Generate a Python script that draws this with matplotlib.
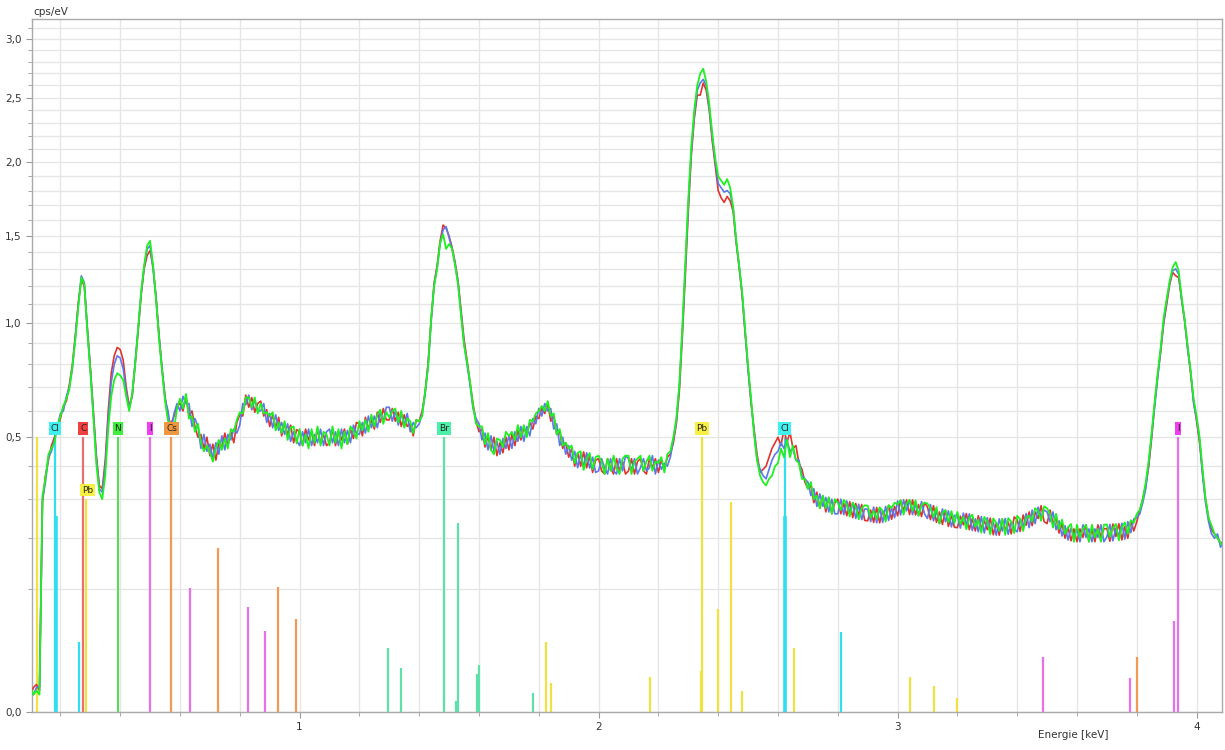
import numpy as np
import matplotlib.pyplot as plt
from matplotlib.ticker import FixedLocator, MultipleLocator, FuncFormatter

# energy channels (keV), 10 eV wide
energy = np.round(np.arange(0.10, 4.095, 0.01), 2)

# three measurements, cps/eV, one row per 0.1 keV
spec_red = [
    0.002, 0.004, 0.005, 0.003, 0.29, 0.37, 0.42, 0.47, 0.50, 0.53,
    0.57, 0.62, 0.64, 0.71, 0.80, 0.94, 1.11, 1.24, 1.20, 0.98,
    0.79, 0.60, 0.44, 0.34, 0.33, 0.42, 0.60, 0.76, 0.84, 0.88,
    0.87, 0.82, 0.70, 0.62, 0.66, 0.80, 0.96, 1.15, 1.30, 1.38,
    1.41, 1.31, 1.14, 0.94, 0.78, 0.66, 0.57, 0.55, 0.58, 0.62,
    0.63, 0.60, 0.66, 0.58, 0.60, 0.54, 0.50, 0.51, 0.46, 0.50,
    0.435, 0.475, 0.42, 0.48, 0.465, 0.515, 0.47, 0.52, 0.48, 0.555,
    0.585, 0.58, 0.665, 0.615, 0.655, 0.595, 0.63, 0.64, 0.58, 0.605,
    0.54, 0.585, 0.535, 0.575, 0.505, 0.55, 0.51, 0.545, 0.48, 0.528,
    0.52, 0.47, 0.53, 0.49, 0.52, 0.47, 0.53, 0.48, 0.51, 0.47,
    0.48, 0.53, 0.47, 0.52, 0.49, 0.53, 0.475, 0.53, 0.495, 0.555,
    0.55, 0.505, 0.575, 0.53, 0.565, 0.53, 0.595, 0.555, 0.61, 0.565,
    0.565, 0.61, 0.56, 0.595, 0.54, 0.585, 0.54, 0.55, 0.505, 0.565,
    0.56, 0.60, 0.68, 0.81, 1.02, 1.22, 1.32, 1.47, 1.57, 1.55,
    1.50, 1.43, 1.34, 1.23, 1.07, 0.92, 0.82, 0.72, 0.63, 0.56,
    0.52, 0.53, 0.465, 0.505, 0.455, 0.50, 0.435, 0.48, 0.445, 0.50,
    0.455, 0.51, 0.47, 0.525, 0.49, 0.535, 0.51, 0.555, 0.53, 0.58,
    0.57, 0.61, 0.59, 0.63, 0.56, 0.58, 0.51, 0.52, 0.46, 0.48,
    0.43, 0.46, 0.40, 0.445, 0.40, 0.448, 0.395, 0.434, 0.38, 0.42,
    0.425, 0.385, 0.375, 0.425, 0.395, 0.375, 0.425, 0.385, 0.415, 0.375,
    0.385, 0.425, 0.375, 0.415, 0.425, 0.385, 0.375, 0.425, 0.395, 0.425,
    0.38, 0.42, 0.39, 0.43, 0.44, 0.48, 0.55, 0.68, 0.93, 1.26,
    1.66, 2.05, 2.33, 2.52, 2.52, 2.62, 2.56, 2.40, 2.16, 1.98,
    1.80, 1.75, 1.72, 1.76, 1.73, 1.66, 1.46, 1.31, 1.15, 0.95,
    0.78, 0.63, 0.53, 0.44, 0.38, 0.39, 0.40, 0.43, 0.46, 0.48,
    0.50, 0.47, 0.53, 0.48, 0.52, 0.46, 0.47, 0.41, 0.39, 0.35,
    0.33, 0.34, 0.29, 0.32, 0.275, 0.31, 0.265, 0.305, 0.26, 0.29,
    0.30, 0.26, 0.288, 0.255, 0.293, 0.25, 0.288, 0.256, 0.285, 0.243,
    0.242, 0.27, 0.238, 0.277, 0.237, 0.268, 0.25, 0.283, 0.246, 0.28,
    0.255, 0.297, 0.268, 0.298, 0.258, 0.298, 0.257, 0.285, 0.253, 0.29,
    0.278, 0.245, 0.282, 0.238, 0.265, 0.233, 0.27, 0.228, 0.257, 0.226,
    0.225, 0.254, 0.232, 0.261, 0.22, 0.248, 0.217, 0.255, 0.223, 0.242,
    0.22, 0.249, 0.208, 0.237, 0.207, 0.247, 0.218, 0.239, 0.21, 0.252,
    0.245, 0.216, 0.257, 0.231, 0.265, 0.23, 0.265, 0.248, 0.282, 0.24,
    0.235, 0.27, 0.235, 0.25, 0.212, 0.235, 0.20, 0.226, 0.194, 0.222,
    0.192, 0.222, 0.202, 0.232, 0.192, 0.222, 0.192, 0.232, 0.202, 0.222,
    0.223, 0.193, 0.234, 0.204, 0.235, 0.196, 0.228, 0.20, 0.243, 0.217,
    0.24, 0.27, 0.30, 0.34, 0.40, 0.50, 0.63, 0.75, 0.86, 1.00,
    1.10, 1.21, 1.28, 1.26, 1.25, 1.13, 1.01, 0.88, 0.76, 0.64,
    0.56, 0.48, 0.38, 0.30, 0.25, 0.22, 0.21, 0.20, 0.19, 0.19,
]

spec_blue = [
    0.003, 0.002, 0.004, 0.004, 0.30, 0.35, 0.43, 0.45, 0.49, 0.54,
    0.59, 0.60, 0.66, 0.70, 0.78, 0.93, 1.10, 1.26, 1.22, 0.97,
    0.78, 0.59, 0.43, 0.33, 0.32, 0.40, 0.57, 0.72, 0.80, 0.84,
    0.83, 0.78, 0.68, 0.61, 0.66, 0.81, 0.97, 1.16, 1.31, 1.42,
    1.44, 1.30, 1.13, 0.93, 0.78, 0.65, 0.60, 0.52, 0.59, 0.63,
    0.60, 0.66, 0.63, 0.63, 0.54, 0.57, 0.54, 0.46, 0.51, 0.45,
    0.475, 0.425, 0.48, 0.44, 0.505, 0.455, 0.51, 0.49, 0.53, 0.515,
    0.545, 0.63, 0.625, 0.665, 0.605, 0.645, 0.60, 0.60, 0.63, 0.555,
    0.59, 0.535, 0.585, 0.525, 0.555, 0.51, 0.55, 0.485, 0.52, 0.488,
    0.47, 0.52, 0.48, 0.53, 0.47, 0.51, 0.48, 0.53, 0.47, 0.52,
    0.53, 0.48, 0.52, 0.47, 0.53, 0.48, 0.525, 0.48, 0.545, 0.515,
    0.51, 0.555, 0.515, 0.58, 0.535, 0.58, 0.535, 0.595, 0.56, 0.615,
    0.615, 0.56, 0.60, 0.545, 0.59, 0.545, 0.59, 0.52, 0.555, 0.535,
    0.55, 0.59, 0.67, 0.80, 1.01, 1.21, 1.31, 1.45, 1.54, 1.56,
    1.49, 1.42, 1.33, 1.22, 1.05, 0.90, 0.80, 0.71, 0.61, 0.57,
    0.55, 0.49, 0.515, 0.455, 0.505, 0.45, 0.485, 0.44, 0.495, 0.46,
    0.505, 0.46, 0.52, 0.485, 0.54, 0.485, 0.54, 0.505, 0.57, 0.55,
    0.61, 0.58, 0.63, 0.60, 0.61, 0.53, 0.55, 0.47, 0.50, 0.44,
    0.47, 0.42, 0.45, 0.395, 0.44, 0.398, 0.445, 0.394, 0.43, 0.38,
    0.385, 0.425, 0.395, 0.375, 0.425, 0.385, 0.375, 0.425, 0.385, 0.435,
    0.425, 0.385, 0.425, 0.375, 0.395, 0.425, 0.385, 0.395, 0.435, 0.375,
    0.42, 0.39, 0.41, 0.40, 0.43, 0.49, 0.56, 0.70, 0.96, 1.30,
    1.70, 2.08, 2.36, 2.56, 2.62, 2.65, 2.60, 2.42, 2.19, 2.01,
    1.85, 1.82, 1.79, 1.80, 1.78, 1.68, 1.47, 1.32, 1.16, 0.96,
    0.77, 0.64, 0.52, 0.42, 0.39, 0.37, 0.36, 0.39, 0.42, 0.44,
    0.45, 0.48, 0.46, 0.49, 0.45, 0.46, 0.42, 0.42, 0.37, 0.36,
    0.35, 0.31, 0.33, 0.28, 0.315, 0.28, 0.305, 0.265, 0.30, 0.26,
    0.26, 0.30, 0.258, 0.295, 0.263, 0.29, 0.248, 0.286, 0.245, 0.273,
    0.272, 0.24, 0.278, 0.237, 0.277, 0.238, 0.28, 0.243, 0.276, 0.25,
    0.295, 0.257, 0.298, 0.268, 0.298, 0.258, 0.287, 0.255, 0.293, 0.26,
    0.248, 0.285, 0.242, 0.268, 0.235, 0.273, 0.24, 0.268, 0.227, 0.256,
    0.255, 0.224, 0.262, 0.231, 0.26, 0.218, 0.247, 0.215, 0.253, 0.212,
    0.25, 0.219, 0.238, 0.207, 0.247, 0.217, 0.248, 0.209, 0.24, 0.222,
    0.215, 0.246, 0.227, 0.261, 0.225, 0.27, 0.235, 0.278, 0.252, 0.27,
    0.265, 0.24, 0.265, 0.22, 0.242, 0.205, 0.23, 0.196, 0.224, 0.202,
    0.222, 0.192, 0.232, 0.202, 0.222, 0.192, 0.222, 0.202, 0.232, 0.192,
    0.203, 0.233, 0.194, 0.224, 0.205, 0.236, 0.198, 0.24, 0.213, 0.247,
    0.25, 0.26, 0.29, 0.33, 0.41, 0.51, 0.62, 0.74, 0.87, 1.01,
    1.12, 1.22, 1.29, 1.30, 1.27, 1.12, 1.02, 0.87, 0.77, 0.63,
    0.57, 0.49, 0.37, 0.29, 0.24, 0.21, 0.20, 0.21, 0.18, 0.19,
]

spec_green = [
    0.004, 0.002, 0.003, 0.002, 0.31, 0.36, 0.44, 0.46, 0.48, 0.54,
    0.58, 0.62, 0.65, 0.69, 0.79, 0.92, 1.09, 1.25, 1.21, 0.96,
    0.77, 0.58, 0.41, 0.32, 0.30, 0.37, 0.53, 0.66, 0.73, 0.76,
    0.75, 0.73, 0.66, 0.60, 0.67, 0.80, 0.97, 1.17, 1.32, 1.44,
    1.47, 1.32, 1.12, 0.92, 0.77, 0.64, 0.56, 0.55, 0.53, 0.61,
    0.65, 0.61, 0.67, 0.57, 0.58, 0.52, 0.55, 0.48, 0.45, 0.47,
    0.445, 0.415, 0.46, 0.49, 0.455, 0.495, 0.46, 0.53, 0.52, 0.565,
    0.595, 0.59, 0.655, 0.655, 0.615, 0.655, 0.59, 0.63, 0.59, 0.595,
    0.58, 0.595, 0.525, 0.555, 0.515, 0.56, 0.49, 0.535, 0.54, 0.478,
    0.53, 0.47, 0.51, 0.46, 0.53, 0.48, 0.54, 0.47, 0.52, 0.51,
    0.47, 0.54, 0.48, 0.53, 0.46, 0.52, 0.475, 0.54, 0.525, 0.495,
    0.56, 0.525, 0.565, 0.52, 0.585, 0.54, 0.585, 0.605, 0.55, 0.595,
    0.575, 0.60, 0.61, 0.555, 0.60, 0.535, 0.57, 0.56, 0.515, 0.565,
    0.56, 0.58, 0.68, 0.79, 1.03, 1.20, 1.30, 1.46, 1.51, 1.42,
    1.45, 1.42, 1.32, 1.21, 1.04, 0.89, 0.81, 0.72, 0.62, 0.55,
    0.54, 0.54, 0.475, 0.515, 0.455, 0.44, 0.495, 0.49, 0.465, 0.52,
    0.505, 0.52, 0.49, 0.545, 0.50, 0.545, 0.50, 0.565, 0.56, 0.59,
    0.60, 0.62, 0.60, 0.64, 0.58, 0.59, 0.51, 0.53, 0.47, 0.48,
    0.46, 0.47, 0.41, 0.445, 0.45, 0.388, 0.425, 0.444, 0.39, 0.43,
    0.435, 0.415, 0.375, 0.425, 0.385, 0.435, 0.395, 0.375, 0.425, 0.435,
    0.435, 0.375, 0.415, 0.425, 0.435, 0.385, 0.415, 0.435, 0.385, 0.415,
    0.41, 0.43, 0.38, 0.44, 0.45, 0.50, 0.57, 0.71, 0.98, 1.33,
    1.74, 2.12, 2.40, 2.60, 2.70, 2.74, 2.63, 2.45, 2.22, 2.03,
    1.90, 1.87, 1.84, 1.88, 1.82, 1.69, 1.48, 1.32, 1.17, 0.97,
    0.79, 0.65, 0.51, 0.42, 0.37, 0.35, 0.34, 0.36, 0.37, 0.40,
    0.41, 0.46, 0.43, 0.49, 0.43, 0.47, 0.42, 0.41, 0.36, 0.36,
    0.33, 0.35, 0.30, 0.31, 0.275, 0.31, 0.275, 0.305, 0.26, 0.30,
    0.29, 0.27, 0.298, 0.285, 0.253, 0.29, 0.278, 0.246, 0.275, 0.283,
    0.282, 0.25, 0.268, 0.247, 0.277, 0.268, 0.24, 0.283, 0.276, 0.29,
    0.285, 0.297, 0.258, 0.288, 0.298, 0.268, 0.297, 0.255, 0.283, 0.29,
    0.288, 0.275, 0.252, 0.278, 0.235, 0.263, 0.27, 0.238, 0.267, 0.236,
    0.265, 0.234, 0.252, 0.221, 0.25, 0.258, 0.227, 0.245, 0.213, 0.252,
    0.24, 0.209, 0.248, 0.237, 0.217, 0.247, 0.208, 0.249, 0.24, 0.212,
    0.255, 0.246, 0.217, 0.251, 0.255, 0.24, 0.275, 0.268, 0.242, 0.28,
    0.275, 0.26, 0.225, 0.26, 0.222, 0.245, 0.21, 0.226, 0.234, 0.192,
    0.232, 0.202, 0.222, 0.232, 0.192, 0.232, 0.202, 0.222, 0.192, 0.232,
    0.233, 0.203, 0.224, 0.234, 0.195, 0.226, 0.238, 0.21, 0.243, 0.237,
    0.26, 0.27, 0.30, 0.35, 0.42, 0.52, 0.64, 0.76, 0.88, 1.03,
    1.13, 1.23, 1.31, 1.34, 1.29, 1.14, 1.02, 0.89, 0.77, 0.65,
    0.58, 0.50, 0.39, 0.30, 0.25, 0.23, 0.21, 0.20, 0.19, 0.18,
]

# element marker lines: energy (keV), relative height, element
line_kev = [0.122, 0.182, 0.184, 0.262, 0.277, 0.286, 0.392, 0.500, 0.570,
            0.634, 0.728, 0.828, 0.885, 0.928, 0.988,
            1.296, 1.340, 1.483, 1.523, 1.530, 1.594, 1.600, 1.781,
            1.824, 1.840, 2.172, 2.343, 2.346, 2.400, 2.443, 2.480,
            2.622, 2.624, 2.654, 2.812, 3.042, 3.122, 3.199,
            3.487, 3.778, 3.800, 3.925, 3.938]
line_height = [0.50, 0.50, 0.254, 0.032, 0.50, 0.30, 0.50, 0.50, 0.50,
               0.102, 0.178, 0.073, 0.043, 0.103, 0.057,
               0.027, 0.0128, 0.50, 0.0008, 0.237, 0.0096, 0.0146, 0.0024,
               0.0324, 0.0056, 0.0081, 0.011, 0.50, 0.070, 0.292, 0.0029,
               0.50, 0.254, 0.027, 0.042, 0.0081, 0.0045, 0.0013,
               0.020, 0.0077, 0.020, 0.055, 0.50]
line_elem = ['Pb', 'Cl', 'Cl', 'Cl', 'C', 'Pb', 'N', 'I', 'Cs',
             'I', 'Cs', 'I', 'I', 'Cs', 'Cs',
             'Br', 'Br', 'Br', 'Br', 'Br', 'Br', 'Br', 'Br',
             'Pb', 'Pb', 'Pb', 'Pb', 'Pb', 'Pb', 'Pb', 'Pb',
             'Cl', 'Cl', 'Pb', 'Cl', 'Pb', 'Pb', 'Pb',
             'I', 'I', 'Cs', 'I', 'I']

# element tags: element, energy, height of the line they sit on
tag_elem = ['Cl', 'C', 'Pb', 'N', 'I', 'Cs', 'Br', 'Pb', 'Cl', 'I']
tag_kev = [0.182, 0.277, 0.290, 0.392, 0.500, 0.572, 1.483, 2.346, 2.622, 3.938]
tag_height = [0.50, 0.50, 0.30, 0.50, 0.50, 0.50, 0.50, 0.50, 0.50, 0.50]

line_colors = {'Cl': '#2fdff0', 'C': '#e87070', 'N': '#5fd85f', 'I': '#ea6fea',
               'Cs': '#f09a55', 'Br': '#5fe0a8', 'Pb': '#f0e040'}
tag_colors = {'Cl': '#3ef0f0', 'C': '#f04040', 'N': '#3ef03e', 'I': '#f03ef0',
              'Cs': '#f0963e', 'Br': '#4af0a8', 'Pb': '#f8f040'}


def sqrt_fwd(v):
    return np.sqrt(np.clip(v, 0, None))


def sqrt_inv(s):
    return np.square(s)


fig = plt.figure(figsize=(12.25, 7.5), dpi=100)
ax = fig.add_axes([32 / 1225, 1 - 712 / 750, 1190 / 1225, 693 / 750])
ax.set_yscale('function', functions=(sqrt_fwd, sqrt_inv))

for e, h, el in zip(line_kev, line_height, line_elem):
    lw = 2.6 if (el == 'Cl' and 0.2 < h < 0.3) else 1.6
    ax.vlines(e, 0, h, color=line_colors[el], lw=lw, zorder=2)

ax.plot(energy, spec_red, color='#e0332b', lw=1.2, zorder=3)
ax.plot(energy, spec_blue, color='#5b78ee', lw=1.2, zorder=3)
ax.plot(energy, spec_green, color='#1ff01f', lw=1.3, zorder=3)

for el, e, h in zip(tag_elem, tag_kev, tag_height):
    ax.annotate(el, xy=(e, h), xytext=(0, 9), textcoords='offset pixels',
                ha='center', va='center', fontsize=6.5, color='#222222',
                bbox=dict(boxstyle='square,pad=0.2', fc=tag_colors[el], ec='none'),
                zorder=4)

ax.set_xlim(0.105, 4.085)
ax.set_ylim(0, 3.18)

ax.xaxis.set_major_locator(MultipleLocator(1))
ax.xaxis.set_minor_locator(MultipleLocator(0.2))
ax.yaxis.set_major_locator(FixedLocator([0.0, 0.5, 1.0, 1.5, 2.0, 2.5, 3.0]))
ax.yaxis.set_minor_locator(FixedLocator(np.round(np.arange(0.1, 3.15, 0.1), 1)))
ax.xaxis.set_major_formatter(FuncFormatter(lambda v, _: f'{v:.0f}'))
ax.yaxis.set_major_formatter(FuncFormatter(lambda v, _: f'{abs(v):.1f}'.replace('.', ',')))

ax.grid(which='both', color='#e6e6e6', lw=1.0, zorder=0)
ax.set_axisbelow(True)
ax.tick_params(which='both', colors='#999999', labelcolor='#333333', labelsize=7.5,
               direction='out')
ax.tick_params(which='major', length=4)
ax.tick_params(which='minor', length=3)
for s in ax.spines.values():
    s.set_color('#aaaaaa')
    s.set_linewidth(1.0)

ax.set_xlabel('Energie [keV]', fontsize=7.5, color='#333333')
ax.xaxis.set_label_coords(0.875, -0.026)
fig.text(33 / 1225, 1 - 12 / 750, 'cps/eV', fontsize=7.5, color='#333333',
         ha='left', va='center')

fig.savefig('out.png', dpi=100)
